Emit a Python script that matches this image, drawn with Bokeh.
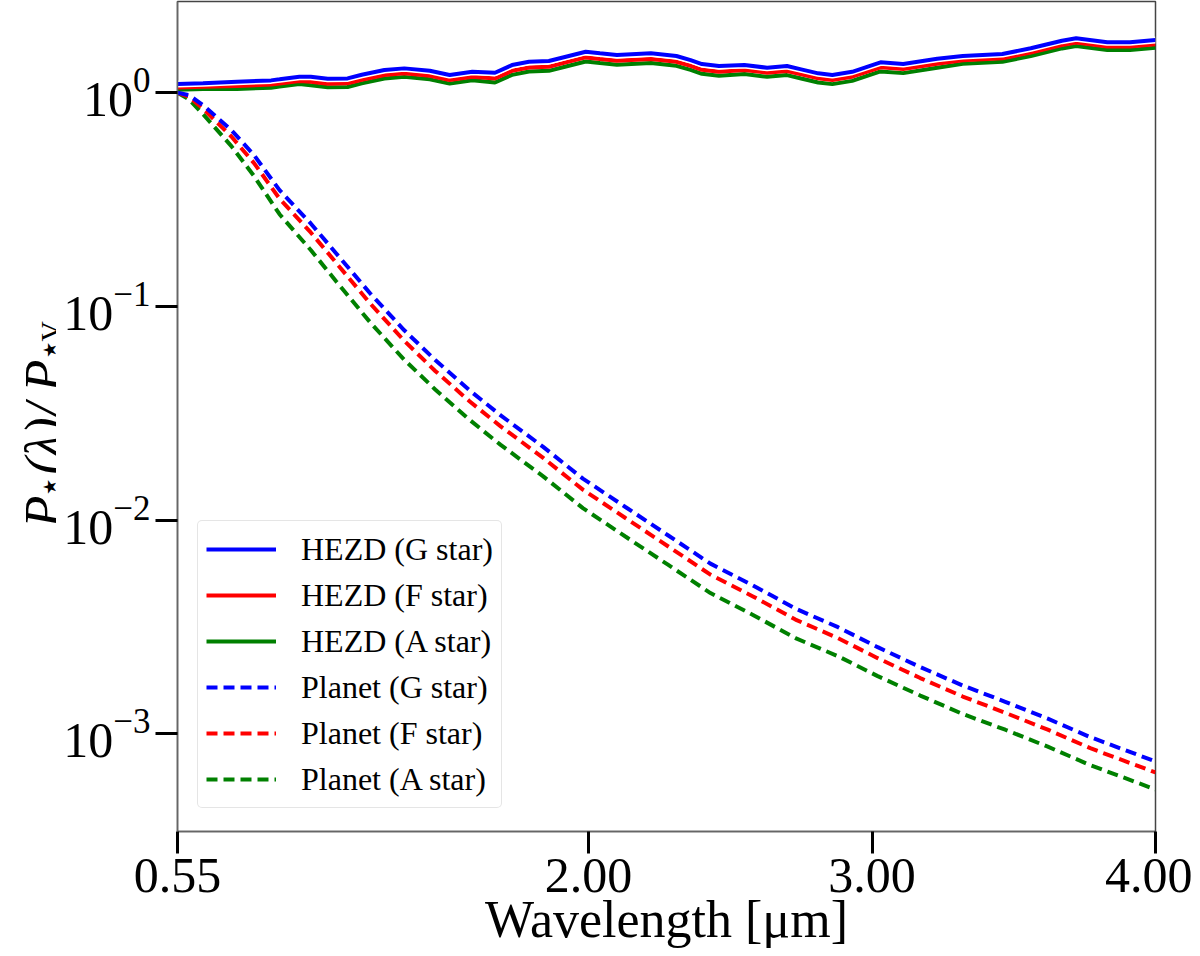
import math
from bokeh.plotting import figure
from bokeh.layouts import row
from bokeh.models import (Range1d, FixedTicker, Legend, LegendItem,
                          NumeralTickFormatter)
from bokeh.core.properties import value
from bokeh.embed import file_html
from bokeh.resources import INLINE

# ---------------- data ----------------
wl_hezd = [0.55, 0.64, 0.76, 0.88, 0.91, 0.98, 1.02, 1.08, 1.15, 1.20, 1.28, 1.35,
           1.44, 1.51, 1.59, 1.67, 1.73, 1.79, 1.86, 1.92, 1.99, 2.04, 2.10, 2.22,
           2.31, 2.36, 2.40, 2.46, 2.55, 2.63, 2.70, 2.75, 2.81, 2.86, 2.93, 3.03,
           3.11, 3.23, 3.32, 3.46, 3.56, 3.67, 3.72, 3.83, 3.91, 4.00]
hezd_g = [1.098, 1.107, 1.126, 1.143, 1.156, 1.189, 1.189, 1.163, 1.168, 1.214, 1.278, 1.301,
          1.268, 1.211, 1.254, 1.241, 1.348, 1.397, 1.408, 1.475, 1.557, 1.530, 1.502, 1.530,
          1.486, 1.423, 1.363, 1.334, 1.348, 1.310, 1.334, 1.287, 1.233, 1.211, 1.254, 1.388,
          1.363, 1.443, 1.486, 1.518, 1.615, 1.753, 1.799, 1.723, 1.723, 1.766]
hezd_f = [1.060, 1.068, 1.075, 1.092, 1.104, 1.135, 1.127, 1.103, 1.107, 1.151, 1.212, 1.233,
          1.202, 1.148, 1.189, 1.167, 1.267, 1.313, 1.324, 1.387, 1.464, 1.438, 1.412, 1.438,
          1.397, 1.338, 1.281, 1.254, 1.278, 1.242, 1.265, 1.220, 1.169, 1.148, 1.189, 1.316,
          1.292, 1.368, 1.419, 1.450, 1.542, 1.674, 1.718, 1.645, 1.645, 1.687]
hezd_a = [1.032, 1.041, 1.042, 1.057, 1.069, 1.100, 1.084, 1.061, 1.065, 1.107, 1.166, 1.187,
          1.156, 1.104, 1.144, 1.117, 1.213, 1.257, 1.267, 1.328, 1.401, 1.377, 1.352, 1.377,
          1.337, 1.281, 1.227, 1.201, 1.223, 1.188, 1.210, 1.167, 1.118, 1.098, 1.137, 1.259,
          1.236, 1.309, 1.367, 1.397, 1.486, 1.613, 1.655, 1.585, 1.585, 1.625]

wl_planet = [0.55, 0.59, 0.64, 0.74, 0.82, 0.91, 1.02, 1.11, 1.23, 1.35, 1.46, 1.58, 1.69, 1.84,
             1.98, 2.13, 2.28, 2.43, 2.58, 2.73, 2.88, 3.02, 3.17, 3.32, 3.47, 3.62, 3.77, 4.00]
planet_g = [1.0, 0.975, 0.876, 0.669, 0.511, 0.350, 0.2445, 0.177, 0.1149, 0.0773, 0.0560,
            0.0405, 0.0309, 0.0220, 0.01563, 0.01151, 0.00849, 0.00625, 0.00494, 0.00385,
            0.00315, 0.00254, 0.00205, 0.00168, 0.00141, 0.001175, 0.000963, 0.000741]
planet_f = [1.0, 0.959, 0.844, 0.624, 0.4686, 0.3193, 0.2219, 0.1598, 0.1031, 0.0690, 0.04974,
            0.03598, 0.02745, 0.01954, 0.01388, 0.01022, 0.00754, 0.00555, 0.00439, 0.00342,
            0.00280, 0.002256, 0.001821, 0.001492, 0.001252, 0.001044, 0.000855, 0.000658]
planet_a = [1.0, 0.934, 0.795, 0.563, 0.4074, 0.2701, 0.1837, 0.1309, 0.0841, 0.05624, 0.04074,
            0.02946, 0.02248, 0.01601, 0.01137, 0.00837, 0.00618, 0.00455, 0.003594, 0.002801,
            0.002304, 0.001859, 0.001508, 0.001236, 0.001043, 0.000869, 0.000712, 0.000548]

x_ticks = [0.55, 2.0, 3.0, 4.0]
x_tick_labels = ["0.55", "2.00", "3.00", "4.00"]
y_ticks = [1e-3, 1e-2, 1e-1, 1.0]
legend_labels = ["HEZD (G star)", "HEZD (F star)", "HEZD (A star)",
                 "Planet (G star)", "Planet (F star)", "Planet (A star)"]
x_label = "Wavelength [\u03bcm]"
# y label  P_star(lambda) / P_star V, written as pieces
y_label_parts = ["P", "\u2605", "(\u03bb)/", "P", "\u2605", "V"]

BLUE, RED, GREEN = "#0000ff", "#ff0000", "#008000"
SERIF = "Liberation Serif"
H = 954
LW = 56            # width of the strip that carries the y label
FT, FB = 1, 831    # frame top / bottom (canvas pixels)

# ---------------- y-label strip (its frame is aligned with the main frame) ----------------
lab = figure(width=LW, height=H, x_range=Range1d(0, LW), y_range=Range1d(-FB, -FT),
             output_backend="svg", toolbar_location=None, min_border=0,
             min_border_top=FT, min_border_bottom=H - FB, outline_line_color=None)
lab.axis.visible = False
lab.grid.visible = False
# (x baseline, start y) in canvas pixels (y down), size, style for each piece
part_pos = [(43, 527, "52px", "italic"),
            (49, 494, "18px", "normal"),
            (43, 474, "52px", "italic"),
            (43, 391, "52px", "italic"),
            (49, 357, "18px", "normal"),
            (50, 341, "28px", "normal")]
for txt, (px, py, fs, st) in zip(y_label_parts, part_pos):
    lab.text(x=[px], y=[-py], text=[txt], angle=math.pi / 2,
             text_font=value(SERIF), text_font_size=value(fs), text_font_style=st,
             text_align="left", text_baseline="alphabetic", text_color="black")

# ---------------- main figure ----------------
p = figure(width=1192 - LW, height=H, y_axis_type="log",
           x_range=Range1d(0.55, 4.0), y_range=Range1d(3.483e-4, 2.675),
           output_backend="svg", toolbar_location=None,
           min_border_left=177 - LW, min_border_right=37, min_border_top=FT,
           min_border_bottom=H - FB)
p.xgrid.visible = False
p.ygrid.visible = False
p.outline_line_color = "#444444"
p.outline_line_width = 1.5
p.background_fill_color = "white"
p.border_fill_color = "white"

# HEZD lines (solid, blue on top with a thin white edge)
r_ha = p.line(wl_hezd, hezd_a, line_color=GREEN, line_width=4)
r_hf = p.line(wl_hezd, hezd_f, line_color=RED, line_width=4)
p.line(wl_hezd, hezd_g, line_color="white", line_width=7)
r_hg = p.line(wl_hezd, hezd_g, line_color=BLUE, line_width=4)

# Planet lines (dashed)
r_pa = p.line(wl_planet, planet_a, line_color=GREEN, line_width=4, line_dash="11 6")
r_pf = p.line(wl_planet, planet_f, line_color=RED, line_width=4, line_dash="11 6")
r_pg = p.line(wl_planet, planet_g, line_color=BLUE, line_width=4, line_dash="11 6")

# axes
for ax in (p.xaxis[0], p.yaxis[0]):
    ax.major_tick_out = 22
    ax.major_tick_in = 0
    ax.major_tick_line_width = 3
    ax.major_tick_line_color = "black"
    ax.minor_tick_line_color = None
    ax.axis_line_color = "#666666"
    ax.axis_line_width = 1.5
    ax.major_label_text_font = SERIF
    ax.major_label_text_font_size = "50px"
    ax.major_label_text_color = "black"

xa = p.xaxis[0]
xa.ticker = FixedTicker(ticks=x_ticks)
xa.formatter = NumeralTickFormatter(format="0.00")
xa.major_label_overrides = dict(zip(x_ticks, x_tick_labels))
xa.major_label_standoff = 5
xa.axis_label = x_label
xa.axis_label_text_font = SERIF
xa.axis_label_text_font_style = "normal"
xa.axis_label_text_font_size = "52px"
xa.axis_label_text_color = "black"
xa.axis_label_standoff = -4

ya = p.yaxis[0]
ya.ticker = FixedTicker(ticks=y_ticks)
ya.major_label_standoff = 5

# legend
renderers = [r_hg, r_hf, r_ha, r_pg, r_pf, r_pa]
legend = Legend(items=[LegendItem(label=l, renderers=[r]) for l, r in zip(legend_labels, renderers)],
                location=(20, 23), margin=0, padding=8, spacing=6,
                glyph_width=70, glyph_height=40, label_height=40, label_standoff=25,
                label_text_font=SERIF, label_text_font_size="32px", label_text_color="black",
                border_line_color="#cccccc", border_line_width=1.5,
                background_fill_color="white", background_fill_alpha=0.8)
try:
    legend.border_radius = 5
except Exception:
    pass
p.add_layout(legend)

layout = row(lab, p, spacing=0)
open("out.html", "w").write(file_html(layout, INLINE))
